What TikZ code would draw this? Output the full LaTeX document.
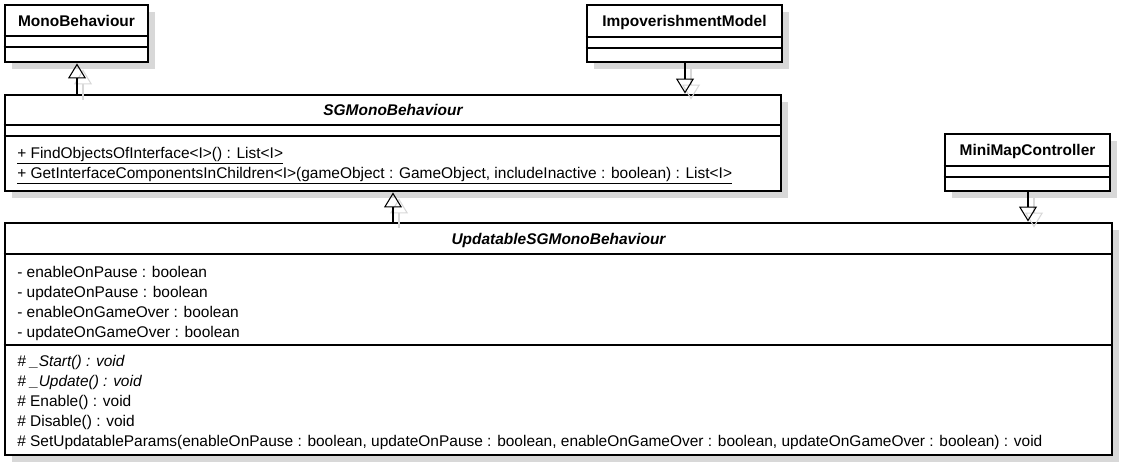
\documentclass[tikz,border=0pt]{standalone}
\usepackage{fontspec}
\setmainfont{Liberation Sans}
\usetikzlibrary{arrows.meta,positioning,calc,fit,shadows}

\definecolor{shadowgray}{RGB}{216,216,216}

\begin{document}
\begin{tikzpicture}[x=0.75pt,y=-0.75pt,>=Latex,font=\fontsize{11.6}{13}\selectfont]
  \tikzstyle{cls}=[draw,line width=2.2pt,fill=white,inner sep=0pt,drop shadow={shadow xshift=5.25pt,shadow yshift=-5.25pt,fill=shadowgray,opacity=1}]
  \tikzstyle{sep}=[line width=0.8pt]
  \tikzstyle{title}=[font=\fontsize{11.6}{13}\selectfont\bfseries,anchor=base,inner sep=0pt]
  \tikzstyle{member}=[anchor=base west,inner sep=0pt]
  \tikzstyle{gen}=[line width=0.8pt,-{Triangle[open,length=11.25pt,width=13.5pt]}]
  \tikzstyle{genshadow}=[gen,draw=shadowgray,transform canvas={xshift=4.5pt,yshift=-4.5pt}]
  \useasboundingbox (0,0) rectangle (1122,475);

  % class boxes
  \node[cls,fit={(5,5) (148,62)}] (mono) {};
  \node[cls,fit={(587,5) (782,62)}] (impov) {};
  \node[cls,fit={(945,134) (1110,191)}] (minimap) {};
  \node[cls,fit={(5,95) (781,191)}] (sg) {};
  \node[cls,fit={(5,223) (1112,455)}] (upd) {};

  % compartments
  \draw[sep] (mono.west |- 0,36) -- (mono.east |- 0,36);
  \draw[sep] (mono.west |- 0,47) -- (mono.east |- 0,47);
  \draw[sep] (impov.west |- 0,37) -- (impov.east |- 0,37);
  \draw[sep] (impov.west |- 0,48) -- (impov.east |- 0,48);
  \draw[sep] (minimap.west |- 0,166) -- (minimap.east |- 0,166);
  \draw[sep] (minimap.west |- 0,177) -- (minimap.east |- 0,177);
  \draw[sep] (sg.west |- 0,125) -- (sg.east |- 0,125);
  \draw[sep] (sg.west |- 0,136) -- (sg.east |- 0,136);
  \draw[sep] (upd.west |- 0,254) -- (upd.east |- 0,254);
  \draw[sep] (upd.west |- 0,345) -- (upd.east |- 0,345);

  % names
  \node[title] (mononame) at (76.5,26) {MonoBehaviour};
  \node[title] (impovname) at (684.5,26) {ImpoverishmentModel};
  \node[title] (minimapname) at (1027.5,155) {MiniMapController};
  \node[title,font=\fontsize{11.6}{13}\selectfont\bfseries\itshape] (sgname) at (393,115) {SGMonoBehaviour};
  \node[title,font=\fontsize{11.6}{13}\selectfont\bfseries\itshape] (updname) at (558.5,244) {UpdatableSGMonoBehaviour};

  % SGMonoBehaviour operations
  \node[member] (sgop1) at (17,158) {\underline{+ FindObjectsOfInterface<I>() : List<I>}};
  \node[member] (sgop2) at (17,178) {\underline{+ GetInterfaceComponentsInChildren<I>(gameObject : GameObject, includeInactive : boolean) : List<I>}};

  % UpdatableSGMonoBehaviour attributes
  \node[member] (attr1) at (17,277) {- enableOnPause : boolean};
  \node[member] (attr2) at (17,297) {- updateOnPause : boolean};
  \node[member] (attr3) at (17,317) {- enableOnGameOver : boolean};
  \node[member] (attr4) at (17,337) {- updateOnGameOver : boolean};

  % UpdatableSGMonoBehaviour operations
  \node[member,font=\fontsize{11.6}{13}\selectfont\itshape] (op1) at (17,366) {\# \_Start() : void};
  \node[member,font=\fontsize{11.6}{13}\selectfont\itshape] (op2) at (17,386) {\# \_Update() : void};
  \node[member] (op3) at (17,406) {\# Enable() : void};
  \node[member] (op4) at (17,426) {\# Disable() : void};
  \node[member] (op5) at (17,446) {\# SetUpdatableParams(enableOnPause : boolean, updateOnPause : boolean, enableOnGameOver : boolean, updateOnGameOver : boolean) : void};

  % generalizations
  \draw[genshadow] (77,0 |- sg.north) -- (77,0 |- mono.south);
  \draw[genshadow] (685,0 |- impov.south) -- (685,0 |- sg.north);
  \draw[genshadow] (393,0 |- upd.north) -- (393,0 |- sg.south);
  \draw[genshadow] (1028,0 |- minimap.south) -- (1028,0 |- upd.north);
  \draw[gen] (77,0 |- sg.north) -- (77,0 |- mono.south);
  \draw[gen] (685,0 |- impov.south) -- (685,0 |- sg.north);
  \draw[gen] (393,0 |- upd.north) -- (393,0 |- sg.south);
  \draw[gen] (1028,0 |- minimap.south) -- (1028,0 |- upd.north);
\end{tikzpicture}
\end{document}
